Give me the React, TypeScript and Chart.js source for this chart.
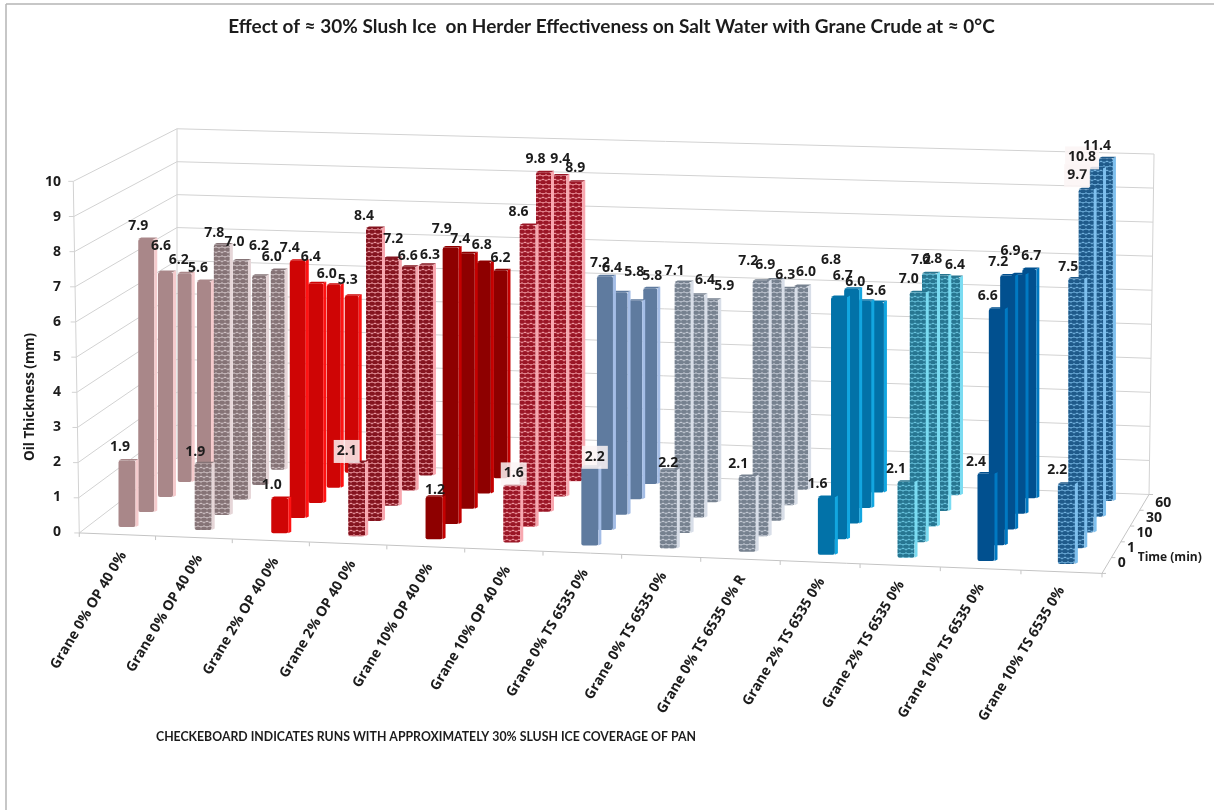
import React, { useEffect, useRef } from "react";
import { Chart, registerables } from "chart.js";

Chart.register(...registerables);

const categories = [
  "Grane 0% OP 40 0%", "Grane 0% OP 40 0%", "Grane 2% OP 40 0%", "Grane 2% OP 40 0%",
  "Grane 10% OP 40 0%", "Grane 10% OP 40 0%", "Grane 0% TS 6535 0%", "Grane 0% TS 6535 0%",
  "Grane 0% TS 6535 0% R", "Grane 2% TS 6535 0%", "Grane 2% TS 6535 0%",
  "Grane 10% TS 6535 0%", "Grane 10% TS 6535 0%",
];
const timeLabels = ["0", "1", "10", "30", "60"];
const time0 = [1.9, 1.9, 1.0, 2.1, 1.2, 1.6, 2.2, 2.2, 2.1, 1.6, 2.1, 2.4, 2.2];
const time1 = [7.9, 7.8, 7.4, 8.4, 7.9, 8.6, 7.2, 7.1, 7.2, 6.8, 7.0, 6.6, 7.5];
const time10 = [6.6, 7.0, 6.4, 7.2, 7.4, 9.8, 6.4, 6.4, 6.9, 6.7, 7.2, 7.2, 9.7];
const time30 = [6.2, 6.2, 6.0, 6.6, 6.8, 9.4, 5.8, 5.9, 6.3, 6.0, 6.8, 6.9, 10.8];
const time60 = [5.6, 6.0, 5.3, 6.3, 6.2, 8.9, 5.8, null, 6.0, 5.6, 6.4, 6.7, 11.4];
const series: (number | null)[][] = [time0, time1, time10, time30, time60];
const valueTicks = [0, 1, 2, 3, 4, 5, 6, 7, 8, 9, 10];

const titleText = "Effect of ≈ 30% Slush Ice  on Herder Effectiveness on Salt Water with Grane Crude at ≈ 0°C";
const noteText = "CHECKEBOARD INDICATES RUNS WITH APPROXIMATELY 30% SLUSH ICE COVERAGE OF PAN";

// Fill per category: [main, checker light (or null when solid), side face]
const mainColors = ["#a98789", "#857376", "#cf0505", "#84141f", "#8e0000", "#9a1626", "#5f7b9f", "#76818f", "#76818f", "#0272a8", "#277691", "#01508f", "#1f5a8a"];
const lightColors = [null, "#d6c9cc", null, "#f6a8b0", null, "#f9a8b0", null, "#ccd2dc", "#ccd2dc", null, "#72cce6", null, "#7dbce8"];
const sideColors = ["#f5cbcd", "#e6d6d8", "#ff1212", "#f8a8b0", "#c40000", "#f8a8b0", "#a4bde6", "#d8dee8", "#d8dee8", "#12a6e0", "#7bdcf2", "#0079c2", "#7fc0ee"];

// Data-label nudges (px from the default spot above the bar), by time then category
const labelDx = [
  [-7, -8, -8, -10, 1, 2, 5, 0, -9, -9, -10, -10, -9],
  [-8, -7.5, -8, -10, -9, -9, -5, -8, -12.5, -8, -9, -9, -8],
  [-4.5, -6, -5, 2, -7, -8, -8, 8, -9, -9, -8.5, -9.5, -9],
  [-6, 0, -7, -1, -2, 1, -1, 13, -2.5, -9, -9, -8, -14],
  [-6, -6, -4, 4, 0, 0, 2, 0, 5, -1, 2, 2, -9],
];
const labelDy = [
  [-13, -11, -13, -11, -7, -12, -10, -7, -12, -13, -13, -12, -14],
  [-13, -12, -13, -12, -18, -13, -13, -11, -20, -37, -13, -13, -12],
  [-26, -18, -26, -19, -14, -13, -24, -15, -14, -13, -13, -13, -14],
  [-13, -30, -11, -11, -17, -16, -29, -14, -13, -19, -16, -23, -11],
  [-13, -13, -16, -10, -12, -14, -12, 0, -14, -11, -12, -13, -12],
];
const labelBoxed = ["3-0", "5-0", "6-0", "12-2", "12-3"];

const VALUE_MAX = 10;
const PX_PER_UNIT = 35;
const ZERO_PX = 532;
const AREA_TOP = 40;
const AREA_BOTTOM = 754;
const AREA_LEFT = 66;
const barWidths = [17, 16, 15, 14, 14];

const lerp = (a: number, b: number, t: number) => a + (b - a) * t;

// Oblique-perspective floor projection: category c, depth d, height v -> scale units
function project(c: number, d: number, v: number) {
  const t = d / 4;
  const x = lerp(127 + 76 * c + 0.19 * c * c, 204 + 73.6 * c + 0.13 * c * c, t);
  const floor = lerp(527 + 3.08 * c, 467 + 2.83 * c, t);
  const unit = lerp(35 + 0.125 * c, 33.2 + 0.09 * c, t);
  return { x, y: (ZERO_PX - floor + v * unit) / PX_PER_UNIT };
}

function makePattern(dark: string, light: string) {
  const tile = document.createElement("canvas");
  tile.width = 6;
  tile.height = 9;
  const g = tile.getContext("2d")!;
  g.fillStyle = light;
  g.fillRect(0, 0, 6, 9);
  g.fillStyle = dark;
  [[3, 2.2], [0, 6.7], [6, 6.7]].forEach(([cx, cy]) => {
    g.beginPath();
    g.ellipse(cx, cy, 3.0, 2.15, 0, 0, Math.PI * 2);
    g.fill();
  });
  return g.createPattern(tile, "repeat")!;
}

const scene3d = {
  id: "scene3d",
  beforeDatasetsDraw(chart: any) {
    const { ctx, scales } = chart;
    const wall = (c: number, d: number, v: number) => {
      const p = project(c, d, v);
      const C = (c + 0.5) / 13;
      const D = (d + 0.5) / 5;
      const lean = (v / VALUE_MAX) * (-6 * (1 - D) + 5 * C);
      return [scales.x.getPixelForValue(p.x) + lean, scales.y.getPixelForValue(p.y)];
    };
    const seg = (a: number[], b: number[]) => {
      ctx.beginPath();
      ctx.moveTo(a[0], a[1]);
      ctx.lineTo(b[0], b[1]);
      ctx.stroke();
    };
    const L = -0.5, R = 12.5, F = -0.5, B = 4.5;
    ctx.save();
    // frame
    ctx.strokeStyle = "#b4b4b4";
    ctx.lineWidth = 1.5;
    seg([6, 4], [6, 810]);
    seg([6, 4], [1214, 4]);
    // walls
    ctx.strokeStyle = "#d2d2d2";
    ctx.lineWidth = 1;
    valueTicks.forEach((v) => {
      seg(wall(L, F, v), wall(L, B, v));
      seg(wall(L, B, v), wall(R, B, v));
      const a = wall(L, F, v);
      seg([a[0] - 5, a[1]], a);
    });
    seg(wall(L, F, 0), wall(L, F, VALUE_MAX));
    seg(wall(L, B, 0), wall(L, B, VALUE_MAX));
    seg(wall(R, B, 0), wall(R, B, VALUE_MAX));
    // floor
    ctx.strokeStyle = "#c4c4c4";
    seg(wall(L, F, 0), wall(R, F, 0));
    seg(wall(R, F, 0), wall(R, B, 0));
    for (let c = 0; c <= categories.length; c++) {
      const a = wall(c - 0.5, F, 0);
      seg(a, [a[0], a[1] + 4]);
    }
    for (let d = 0; d <= timeLabels.length; d++) {
      const a = wall(R, d - 0.5, 0);
      seg(a, [a[0] + 4, a[1]]);
    }
    ctx.restore();
  },
  afterDatasetDraw(chart: any, args: any) {
    const { ctx } = chart;
    const sx = 3, sy = 1.5;
    ctx.save();
    args.meta.data.forEach((el: any, c: number) => {
      if (series[args.index][c] == null) return;
      const right = el.x + el.width / 2;
      const left = el.x - el.width / 2;
      ctx.fillStyle = sideColors[c];
      ctx.beginPath();
      ctx.moveTo(right, el.y);
      ctx.lineTo(right + sx, el.y - sy);
      ctx.lineTo(right + sx, el.base - sy);
      ctx.lineTo(right, el.base);
      ctx.closePath();
      ctx.fill();
      ctx.fillStyle = mainColors[c];
      ctx.beginPath();
      ctx.moveTo(left, el.y);
      ctx.lineTo(left + sx, el.y - sy);
      ctx.lineTo(right + sx, el.y - sy);
      ctx.lineTo(right, el.y);
      ctx.closePath();
      ctx.fill();
    });
    ctx.restore();
  },
  afterDatasetsDraw(chart: any) {
    const { ctx, scales } = chart;
    ctx.save();
    ctx.fillStyle = "#1c1c1c";
    // data labels
    ctx.font = "700 14px 'Open Sans'";
    ctx.textAlign = "center";
    ctx.textBaseline = "middle";
    series.forEach((values, d) => {
      const meta = chart.getDatasetMeta(d);
      values.forEach((v, c) => {
        if (v == null) return;
        const el = meta.data[c];
        const lx = el.x + labelDx[d][c];
        const ly = el.y + labelDy[d][c];
        const text = v.toFixed(1);
        if (labelBoxed.includes(`${c}-${d}`)) {
          const w = ctx.measureText(text).width + 6;
          ctx.fillStyle = "rgba(252,245,245,0.85)";
          ctx.fillRect(lx - w / 2, ly - 11, w, 23);
          ctx.fillStyle = "#1c1c1c";
        }
        ctx.fillText(text, lx, ly);
      });
    });
    // category labels along the front edge
    ctx.font = "700 14px 'Open Sans'";
    ctx.textAlign = "right";
    categories.forEach((label, c) => {
      const a = project(c - 0.5, -0.5, 0);
      const x = scales.x.getPixelForValue(a.x) + 44 - 0.3 * c;
      const y = scales.y.getPixelForValue(a.y) + 20 - 0.2 * c;
      ctx.save();
      ctx.translate(x, y);
      ctx.rotate((-59 * Math.PI) / 180);
      ctx.fillText(label, 0, 0);
      ctx.restore();
    });
    // time axis
    ctx.font = "700 14px 'Open Sans'";
    ctx.textAlign = "left";
    timeLabels.forEach((label, d) => {
      const a = project(12.5, d, 0);
      ctx.fillText(label, scales.x.getPixelForValue(a.x) + 11, scales.y.getPixelForValue(a.y) - 2 + 0.75 * d);
    });
    ctx.font = "700 12px 'Open Sans'";
    const t = project(12.5, 0, 0);
    ctx.fillText("Time (min)", scales.x.getPixelForValue(t.x) + 31, scales.y.getPixelForValue(t.y) - 8);
    // note
    ctx.font = "700 12.3px Lato";
    ctx.fillText(noteText, 156, 737);
    ctx.restore();
  },
};

export default function App() {
  const ref = useRef<HTMLCanvasElement>(null);
  useEffect(() => {
    const fills = mainColors.map((m, c) => {
      const light = lightColors[c];
      return light ? makePattern(m, light) : m;
    });
    const chart = new Chart(ref.current!, {
      type: "bar",
      data: {
        datasets: series.map((values, d) => ({
          label: `${timeLabels[d]} min`,
          data: values.map((v, c) => {
            if (v == null) return { x: project(c, d, 0).x, y: null };
            return {
              x: project(c, d, 0).x,
              y: [project(c, d, 0).y, project(c, d, Math.min(v, VALUE_MAX)).y],
            };
          }),
          backgroundColor: fills,
          grouped: false,
          barPercentage: 1000,
          maxBarThickness: barWidths[d],
          borderRadius: 2,
          borderSkipped: false,
          borderWidth: 0,
        })) as any,
      },
      plugins: [scene3d],
      options: {
        animation: false,
        responsive: false,
        layout: { padding: { left: 9, right: 0, top: 0, bottom: 810 - AREA_BOTTOM } },
        plugins: {
          legend: { display: false },
          tooltip: { enabled: false },
          title: {
            display: true,
            text: titleText,
            color: "#1c1c1c",
            font: { family: "Lato", weight: "bold", size: 19 },
            padding: { top: 15, bottom: AREA_TOP - 15 - 22.8 },
          },
        },
        scales: {
          x: {
            type: "linear",
            display: false,
            offset: false,
            min: AREA_LEFT,
            max: 1214,
          },
          y: {
            type: "linear",
            min: (ZERO_PX - AREA_BOTTOM) / PX_PER_UNIT,
            max: (ZERO_PX - AREA_TOP) / PX_PER_UNIT,
            grid: { display: false, drawTicks: false },
            border: { display: false },
            afterBuildTicks: (s: any) => {
              s.ticks = valueTicks.map((value) => ({ value }));
            },
            afterFit: (s: any) => {
              s.width = AREA_LEFT - 9;
            },
            ticks: {
              autoSkip: false,
              padding: 5,
              color: "#1c1c1c",
              font: { family: "'Open Sans'", weight: 700, size: 14 },
            },
            title: {
              display: true,
              text: "Oil Thickness (mm)",
              color: "#1c1c1c",
              font: { family: "'Open Sans'", weight: 700, size: 13.5 },
              padding: { top: 13, bottom: 0 },
            },
          },
        },
      } as any,
    });
    return () => chart.destroy();
  }, []);
  return (
    <div style={{ position: "fixed", left: 0, top: 0, width: 1214, height: 810, background: "#fff" }}>
      <canvas ref={ref} width={1214} height={810} style={{ display: "block", filter: "blur(0.5px)" }} />
    </div>
  );
}
